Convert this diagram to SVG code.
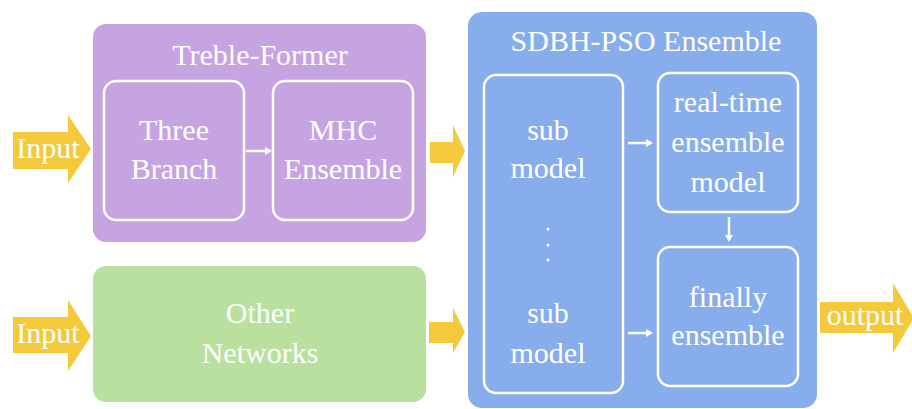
<svg xmlns="http://www.w3.org/2000/svg" width="912" height="409" viewBox="0 0 912 409">
<style>
.t{font-family:'Liberation Serif','Times New Roman','DejaVu Serif',serif;fill:#fff;text-anchor:middle;font-size:30px}
.inner{fill:none;stroke:#fff;stroke-width:2.5}
.yarrow{fill:#F5C93C}
.conn{stroke:#fff;stroke-width:2.5;fill:none}
</style>
<defs>
<marker id="ah" markerWidth="8" markerHeight="8" refX="5" refY="4" orient="auto" markerUnits="userSpaceOnUse">
<path d="M0,0 L7,4 L0,8 Z" fill="#fff"/>
</marker>
</defs>
<rect width="912" height="409" fill="#fff"/>

<g id="treble-former">
<rect x="93" y="24" width="333" height="218" rx="13" fill="#C6A4E1"/>
<text class="t" x="260" y="65" font-family="Liberation Serif, serif">Treble-Former</text>
</g>
<g id="three-branch">
<rect class="inner" x="104" y="81" width="140" height="139" rx="12"/>
<text class="t" x="174" y="140">Three</text>
<text class="t" x="174" y="179">Branch</text>
</g>
<g id="mhc-ensemble">
<rect class="inner" x="273" y="81" width="140" height="139" rx="12"/>
<text class="t" x="343" y="140">MHC</text>
<text class="t" x="343" y="179">Ensemble</text>
</g>

<g id="other-networks">
<rect x="93" y="266" width="333" height="136" rx="13" fill="#BAE0A0"/>
<text class="t" x="260" y="323">Other</text>
<text class="t" x="260" y="363">Networks</text>
</g>

<g id="sdbh-pso">
<rect x="468" y="12" width="349" height="396" rx="14" fill="#87ADEC"/>
<text class="t" x="646" y="51" font-size="31">SDBH-PSO Ensemble</text>
</g>
<g id="sub-models">
<rect class="inner" x="484" y="75" width="139" height="318" rx="12"/>
<text class="t" x="548" y="140">sub</text>
<text class="t" x="548" y="178">model</text>
<circle cx="548" cy="229" r="1.5" fill="#fff"/>
<circle cx="548" cy="245" r="1.5" fill="#fff"/>
<circle cx="548" cy="260" r="1.5" fill="#fff"/>
<text class="t" x="548" y="323">sub</text>
<text class="t" x="548" y="363">model</text>
</g>
<g id="realtime-ensemble">
<rect class="inner" x="658" y="73" width="140" height="139" rx="12"/>
<text class="t" x="728" y="112">real-time</text>
<text class="t" x="728" y="152">ensemble</text>
<text class="t" x="728" y="192">model</text>
</g>
<g id="finally-ensemble">
<rect class="inner" x="658" y="247" width="140" height="139" rx="12"/>
<text class="t" x="728" y="307">finally</text>
<text class="t" x="728" y="345">ensemble</text>
</g>

<g id="input1">
<polygon class="yarrow" points="13,132 68,132 68,115 91,149 68,183 68,169 13,169"/>
<text class="t" x="48" y="158" font-size="28">Input</text>
</g>
<g id="input2">
<polygon class="yarrow" points="13,317 68,317 68,300 91,336 68,371 68,353 13,353"/>
<text class="t" x="48" y="343" font-size="28">Input</text>
</g>
<g id="output">
<polygon class="yarrow" points="820,302 893,302 893,283 914,318 893,353 893,333 820,333"/>
<text class="t" x="865" y="325" font-size="27">output</text>
</g>

<g id="connectors">
<polygon class="yarrow" points="430,142 453,142 453,125 465,151 453,177 453,163 430,163"/>
<polygon class="yarrow" points="429,322 453,322 453,308 465,332 453,353 453,343 429,343"/>
<line class="conn" x1="246" y1="151" x2="270" y2="151" marker-end="url(#ah)"/>
<line class="conn" x1="628" y1="143" x2="651" y2="143" marker-end="url(#ah)"/>
<line class="conn" x1="628" y1="333" x2="651" y2="333" marker-end="url(#ah)"/>
<line class="conn" x1="729" y1="217" x2="729" y2="240" marker-end="url(#ah)"/>
</g>
</svg>
